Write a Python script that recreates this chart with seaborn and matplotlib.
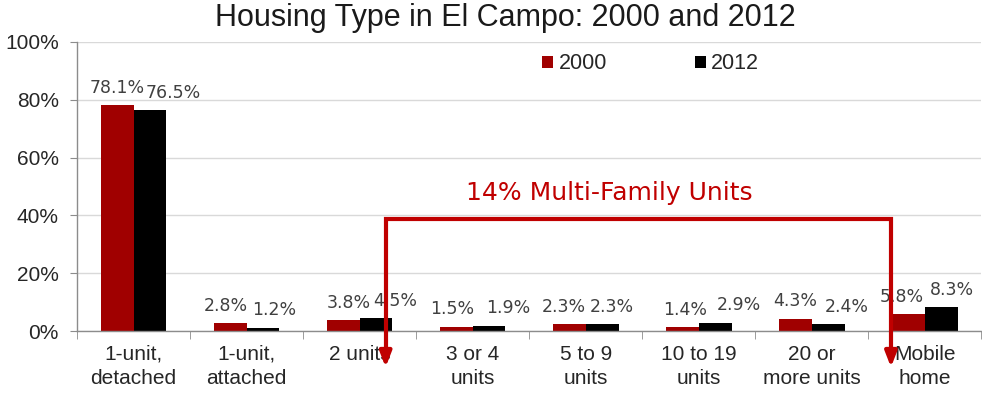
import matplotlib
matplotlib.use("Agg")
import matplotlib.pyplot as plt
import seaborn as sns
import pandas as pd

# Housing type shares (% of housing units)
categories = ["1-unit,\ndetached", "1-unit,\nattached", "2 units", "3 or 4\nunits",
              "5 to 9\nunits", "10 to 19\nunits", "20 or\nmore units", "Mobile\nhome"]
share_2000 = [78.1, 2.8, 3.8, 1.5, 2.3, 1.4, 4.3, 5.8]
share_2012 = [76.5, 1.2, 4.5, 1.9, 2.3, 2.9, 2.4, 8.3]
years = ["2000", "2012"]
yticks = [0, 20, 40, 60, 80, 100]

# horizontal nudges (points) that keep neighbouring value labels apart
nudge_2000 = [0, -3, 4, -3, -4, 2, 0, -5]
nudge_2012 = [17, 8, 14, 14, 7, 17, 13, 8]

df = pd.DataFrame({
    "category": categories * 2,
    "share": share_2000 + share_2012,
    "year": [years[0]] * len(categories) + [years[1]] * len(categories),
})

sns.set_style("white")
plt.rcParams["font.family"] = ["Liberation Sans", "DejaVu Sans"]

fig = plt.figure(figsize=(9.82, 3.96), dpi=100)
ax = fig.add_axes([0.0784, 0.164, 0.921, 0.730])

palette = {"2000": "#A00000", "2012": "#000000"}
sns.barplot(data=df, x="category", y="share", hue="year", order=categories,
            hue_order=years, palette=palette, width=0.58, saturation=1,
            linewidth=0, ax=ax)

ax.set_ylim(0, 100)
ax.set_xlim(-0.5, len(categories) - 0.5)
ax.set_yticks(yticks)
ax.set_yticklabels([f"{v}%" for v in yticks])
ax.yaxis.grid(True, color="#D9D9D9", linewidth=1)
ax.set_axisbelow(True)
ax.set_xlabel("")
ax.set_ylabel("")
for lbl in ax.get_xticklabels():
    lbl.set_linespacing(1.35)

for side in ["top", "right"]:
    ax.spines[side].set_visible(False)
for side in ["left", "bottom"]:
    ax.spines[side].set_color("#8C8C8C")
    ax.spines[side].set_linewidth(1)

ax.tick_params(axis="y", which="major", left=True, length=5, color="#8C8C8C",
               labelsize=15, labelcolor="#262626", pad=8)
ax.tick_params(axis="x", which="major", length=0, labelsize=15,
               labelcolor="#262626", pad=10)
ax.set_xticks([i + 0.5 for i in range(-1, len(categories))], minor=True)
ax.tick_params(axis="x", which="minor", bottom=True, length=6, color="#8C8C8C")

# value labels above each bar
for container, nudges in zip(ax.containers, (nudge_2000, nudge_2012)):
    for patch, value, dx in zip(container.patches, container.datavalues, nudges):
        cx = patch.get_x() + patch.get_width() / 2
        ax.annotate(f"{value:.1f}%", xy=(cx, value), xytext=(dx, 6),
                    textcoords="offset points", ha="center", va="bottom",
                    fontsize=12.5, color="#404040", family="DejaVu Sans")

leg = ax.legend(loc="upper left", bbox_to_anchor=(0.505, 0.99), ncol=2, frameon=False,
                fontsize=15.5, handlelength=0.5, handleheight=0.5, handletextpad=0.25,
                columnspacing=4.1, borderaxespad=0)
for t in leg.get_texts():
    t.set_color("#262626")

# multi-family bracket spanning "2 units" through "20 or more units"
red = "#C00000"
x_left, x_right, y_top, y_tip = 2.23, 6.70, 38.8, -12.5
ax.plot([x_left, x_left, x_right, x_right], [y_tip + 4, y_top, y_top, y_tip + 4],
        color=red, linewidth=3, clip_on=False, solid_joinstyle="miter", zorder=5)
for xx in (x_left, x_right):
    ax.annotate("", xy=(xx, y_tip), xytext=(xx, y_tip + 6),
                arrowprops=dict(arrowstyle="-|>,head_length=0.9,head_width=0.35",
                                color=red, linewidth=3, shrinkA=0, shrinkB=0),
                annotation_clip=False, zorder=5)
ax.text((x_left + x_right) / 2 - 0.26, y_top + 9, "14% Multi-Family Units",
        ha="center", va="center", fontsize=18, color=red, family="DejaVu Sans")

fig.text(0.515, 0.955, "Housing Type in El Campo: 2000 and 2012", ha="center",
         va="center", fontsize=22, color="#1A1A1A")

fig.savefig("out.png", dpi=100)
